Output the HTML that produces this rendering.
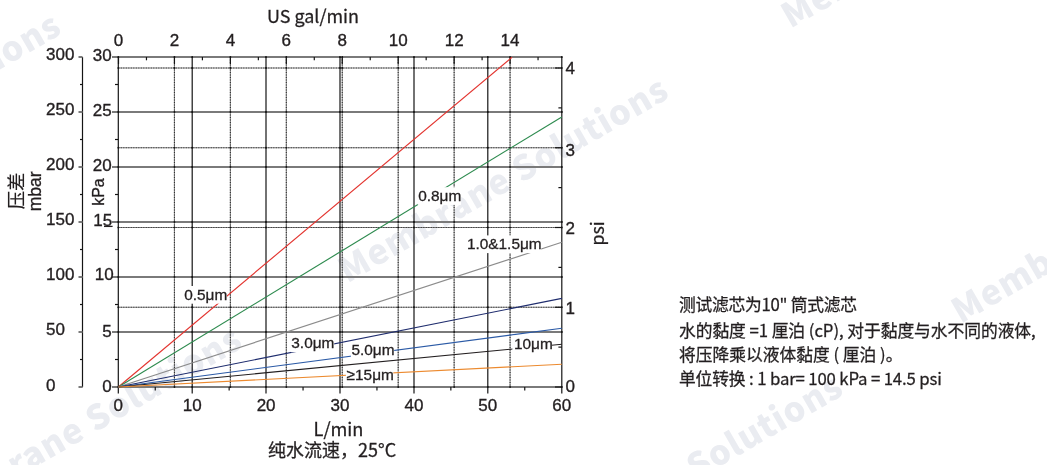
<!DOCTYPE html>
<html><head><meta charset="utf-8"><style>
html,body{margin:0;padding:0;background:#fff;}
body{width:1047px;height:465px;overflow:hidden;}
svg{display:block;}
.sol{stroke:#141414;stroke-width:1.2;}
.dotb{stroke:#858585;stroke-width:1.1;}
.dotbv{stroke:#8a8a8a;stroke-width:1.1;}
.dot{stroke:#333;stroke-width:1.1;stroke-dasharray:1 1.5;}
.num{font-family:'Liberation Sans',Arial,sans-serif;font-size:17px;fill:#231f20;stroke:#231f20;stroke-width:0.35px;}
.lab{font-family:'Liberation Sans',Arial,sans-serif;font-size:15.4px;fill:#231f20;stroke:#231f20;stroke-width:0.3px;}
.ar{font-family:'Liberation Sans',Arial,sans-serif;fill:#231f20;stroke:#231f20;stroke-width:0.3px;}
.noto{font-family:'Noto Sans CJK SC','Liberation Sans',sans-serif;fill:#231f20;stroke:#231f20;stroke-width:0.28px;}
.wm{font-family:'Noto Sans CJK SC',sans-serif;font-weight:900;font-size:34px;letter-spacing:1.0px;fill:#eaecf1;}
</style></head><body>
<svg width="1047" height="465" viewBox="0 0 1047 465">
<rect width="1047" height="465" fill="#fff"/>
<g id="wm"><text transform="translate(-260,219.5) rotate(-30)" class="wm">Membrane Solutions</text><text transform="translate(347.5,283.5) rotate(-30)" class="wm">Membrane Solutions</text><text transform="translate(-79,533) rotate(-30)" class="wm">Membrane Solutions</text><text transform="translate(790.5,28.8) rotate(-30)" class="wm">Membrane Solutions</text><text transform="translate(960.8,324) rotate(-30)" class="wm">Membrane Solutions</text><text transform="translate(522,580.5) rotate(-30)" class="wm">Membrane Solutions</text></g>
<g id="grid"><line x1="118.3" y1="307.25" x2="561.8" y2="307.25" class="dotb"/><line x1="118.3" y1="307.25" x2="561.8" y2="307.25" class="dot"/><line x1="118.3" y1="227.50" x2="561.8" y2="227.50" class="dotb"/><line x1="118.3" y1="227.50" x2="561.8" y2="227.50" class="dot"/><line x1="118.3" y1="147.75" x2="561.8" y2="147.75" class="dotb"/><line x1="118.3" y1="147.75" x2="561.8" y2="147.75" class="dot"/><line x1="118.3" y1="68.00" x2="561.8" y2="68.00" class="dotb"/><line x1="118.3" y1="68.00" x2="561.8" y2="68.00" class="dot"/><line x1="174.44" y1="57.0" x2="174.44" y2="387.0" class="dotbv"/><line x1="174.44" y1="57.0" x2="174.44" y2="387.0" class="dot"/><line x1="230.38" y1="57.0" x2="230.38" y2="387.0" class="dotbv"/><line x1="230.38" y1="57.0" x2="230.38" y2="387.0" class="dot"/><line x1="286.32" y1="57.0" x2="286.32" y2="387.0" class="dotbv"/><line x1="286.32" y1="57.0" x2="286.32" y2="387.0" class="dot"/><line x1="342.26" y1="57.0" x2="342.26" y2="387.0" class="dotbv"/><line x1="342.26" y1="57.0" x2="342.26" y2="387.0" class="dot"/><line x1="398.20" y1="57.0" x2="398.20" y2="387.0" class="dotbv"/><line x1="398.20" y1="57.0" x2="398.20" y2="387.0" class="dot"/><line x1="454.14" y1="57.0" x2="454.14" y2="387.0" class="dotbv"/><line x1="454.14" y1="57.0" x2="454.14" y2="387.0" class="dot"/><line x1="510.08" y1="57.0" x2="510.08" y2="387.0" class="dotbv"/><line x1="510.08" y1="57.0" x2="510.08" y2="387.0" class="dot"/><rect x="112.00" y="386.00" width="450.40" height="2" fill="#7a7a7a"/><rect x="112.00" y="331.00" width="450.40" height="2" fill="#7a7a7a"/><rect x="112.00" y="276.00" width="450.40" height="2" fill="#7a7a7a"/><rect x="112.00" y="221.00" width="450.40" height="2" fill="#7a7a7a"/><rect x="112.00" y="166.00" width="450.40" height="2" fill="#7a7a7a"/><rect x="112.00" y="111.00" width="450.40" height="2" fill="#7a7a7a"/><rect x="112.00" y="56.00" width="450.40" height="2" fill="#7a7a7a"/><line x1="192.20" y1="57.0" x2="192.20" y2="393.5" class="sol"/><line x1="266.00" y1="57.0" x2="266.00" y2="393.5" class="sol"/><line x1="340.00" y1="57.0" x2="340.00" y2="393.5" class="sol"/><line x1="414.00" y1="57.0" x2="414.00" y2="393.5" class="sol"/><line x1="487.80" y1="57.0" x2="487.80" y2="393.5" class="sol"/><line x1="118.3" y1="57.0" x2="118.3" y2="393.5" class="sol"/><line x1="561.8" y1="57.0" x2="561.8" y2="393.5" class="sol"/><line x1="115.0" y1="359.50" x2="118.3" y2="359.50" class="sol"/><line x1="115.0" y1="304.50" x2="118.3" y2="304.50" class="sol"/><line x1="115.0" y1="249.50" x2="118.3" y2="249.50" class="sol"/><line x1="115.0" y1="194.50" x2="118.3" y2="194.50" class="sol"/><line x1="115.0" y1="139.50" x2="118.3" y2="139.50" class="sol"/><line x1="115.0" y1="84.50" x2="118.3" y2="84.50" class="sol"/><line x1="155.25" y1="387.0" x2="155.25" y2="390.5" class="sol"/><line x1="229.15" y1="387.0" x2="229.15" y2="390.5" class="sol"/><line x1="303.05" y1="387.0" x2="303.05" y2="390.5" class="sol"/><line x1="376.95" y1="387.0" x2="376.95" y2="390.5" class="sol"/><line x1="450.85" y1="387.0" x2="450.85" y2="390.5" class="sol"/><line x1="524.75" y1="387.0" x2="524.75" y2="390.5" class="sol"/><line x1="118.50" y1="57.0" x2="118.50" y2="64.0" class="sol"/><line x1="146.47" y1="57.0" x2="146.47" y2="60.3" class="sol"/><line x1="174.44" y1="57.0" x2="174.44" y2="64.0" class="sol"/><line x1="202.41" y1="57.0" x2="202.41" y2="60.3" class="sol"/><line x1="230.38" y1="57.0" x2="230.38" y2="64.0" class="sol"/><line x1="258.35" y1="57.0" x2="258.35" y2="60.3" class="sol"/><line x1="286.32" y1="57.0" x2="286.32" y2="64.0" class="sol"/><line x1="314.29" y1="57.0" x2="314.29" y2="60.3" class="sol"/><line x1="342.26" y1="57.0" x2="342.26" y2="64.0" class="sol"/><line x1="370.23" y1="57.0" x2="370.23" y2="60.3" class="sol"/><line x1="398.20" y1="57.0" x2="398.20" y2="64.0" class="sol"/><line x1="426.17" y1="57.0" x2="426.17" y2="60.3" class="sol"/><line x1="454.14" y1="57.0" x2="454.14" y2="64.0" class="sol"/><line x1="482.11" y1="57.0" x2="482.11" y2="60.3" class="sol"/><line x1="510.08" y1="57.0" x2="510.08" y2="64.0" class="sol"/><line x1="538.05" y1="57.0" x2="538.05" y2="60.3" class="sol"/><line x1="555.0" y1="387.00" x2="561.8" y2="387.00" class="sol"/><line x1="558.4" y1="347.12" x2="561.8" y2="347.12" class="sol"/><line x1="555.0" y1="307.25" x2="561.8" y2="307.25" class="sol"/><line x1="558.4" y1="267.38" x2="561.8" y2="267.38" class="sol"/><line x1="555.0" y1="227.50" x2="561.8" y2="227.50" class="sol"/><line x1="558.4" y1="187.62" x2="561.8" y2="187.62" class="sol"/><line x1="555.0" y1="147.75" x2="561.8" y2="147.75" class="sol"/><line x1="558.4" y1="107.88" x2="561.8" y2="107.88" class="sol"/><line x1="555.0" y1="68.00" x2="561.8" y2="68.00" class="sol"/><line x1="82.5" y1="57.0" x2="82.5" y2="387.3" class="sol"/><rect x="78.50" y="386.00" width="4.00" height="2" fill="#7a7a7a"/><line x1="80.0" y1="359.50" x2="82.5" y2="359.50" class="sol"/><rect x="78.50" y="331.00" width="4.00" height="2" fill="#7a7a7a"/><line x1="80.0" y1="304.50" x2="82.5" y2="304.50" class="sol"/><rect x="78.50" y="276.00" width="4.00" height="2" fill="#7a7a7a"/><line x1="80.0" y1="249.50" x2="82.5" y2="249.50" class="sol"/><rect x="78.50" y="221.00" width="4.00" height="2" fill="#7a7a7a"/><line x1="80.0" y1="194.50" x2="82.5" y2="194.50" class="sol"/><rect x="78.50" y="166.00" width="4.00" height="2" fill="#7a7a7a"/><line x1="80.0" y1="139.50" x2="82.5" y2="139.50" class="sol"/><rect x="78.50" y="111.00" width="4.00" height="2" fill="#7a7a7a"/><line x1="80.0" y1="84.50" x2="82.5" y2="84.50" class="sol"/><rect x="78.50" y="56.00" width="4.00" height="2" fill="#7a7a7a"/><circle cx="118.30" cy="387.00" r="0.9" fill="#111"/><circle cx="118.30" cy="332.00" r="0.9" fill="#111"/><circle cx="118.30" cy="277.00" r="0.9" fill="#111"/><circle cx="118.30" cy="222.00" r="0.9" fill="#111"/><circle cx="118.30" cy="167.00" r="0.9" fill="#111"/><circle cx="118.30" cy="112.00" r="0.9" fill="#111"/><circle cx="118.30" cy="57.00" r="0.9" fill="#111"/><circle cx="118.30" cy="307.25" r="0.9" fill="#111"/><circle cx="118.30" cy="227.50" r="0.9" fill="#111"/><circle cx="118.30" cy="147.75" r="0.9" fill="#111"/><circle cx="118.30" cy="68.00" r="0.9" fill="#111"/><circle cx="192.20" cy="387.00" r="0.9" fill="#111"/><circle cx="192.20" cy="332.00" r="0.9" fill="#111"/><circle cx="192.20" cy="277.00" r="0.9" fill="#111"/><circle cx="192.20" cy="222.00" r="0.9" fill="#111"/><circle cx="192.20" cy="167.00" r="0.9" fill="#111"/><circle cx="192.20" cy="112.00" r="0.9" fill="#111"/><circle cx="192.20" cy="57.00" r="0.9" fill="#111"/><circle cx="192.20" cy="307.25" r="0.9" fill="#111"/><circle cx="192.20" cy="227.50" r="0.9" fill="#111"/><circle cx="192.20" cy="147.75" r="0.9" fill="#111"/><circle cx="192.20" cy="68.00" r="0.9" fill="#111"/><circle cx="266.00" cy="387.00" r="0.9" fill="#111"/><circle cx="266.00" cy="332.00" r="0.9" fill="#111"/><circle cx="266.00" cy="277.00" r="0.9" fill="#111"/><circle cx="266.00" cy="222.00" r="0.9" fill="#111"/><circle cx="266.00" cy="167.00" r="0.9" fill="#111"/><circle cx="266.00" cy="112.00" r="0.9" fill="#111"/><circle cx="266.00" cy="57.00" r="0.9" fill="#111"/><circle cx="266.00" cy="307.25" r="0.9" fill="#111"/><circle cx="266.00" cy="227.50" r="0.9" fill="#111"/><circle cx="266.00" cy="147.75" r="0.9" fill="#111"/><circle cx="266.00" cy="68.00" r="0.9" fill="#111"/><circle cx="340.00" cy="387.00" r="0.9" fill="#111"/><circle cx="340.00" cy="332.00" r="0.9" fill="#111"/><circle cx="340.00" cy="277.00" r="0.9" fill="#111"/><circle cx="340.00" cy="222.00" r="0.9" fill="#111"/><circle cx="340.00" cy="167.00" r="0.9" fill="#111"/><circle cx="340.00" cy="112.00" r="0.9" fill="#111"/><circle cx="340.00" cy="57.00" r="0.9" fill="#111"/><circle cx="340.00" cy="307.25" r="0.9" fill="#111"/><circle cx="340.00" cy="227.50" r="0.9" fill="#111"/><circle cx="340.00" cy="147.75" r="0.9" fill="#111"/><circle cx="340.00" cy="68.00" r="0.9" fill="#111"/><circle cx="414.00" cy="387.00" r="0.9" fill="#111"/><circle cx="414.00" cy="332.00" r="0.9" fill="#111"/><circle cx="414.00" cy="277.00" r="0.9" fill="#111"/><circle cx="414.00" cy="222.00" r="0.9" fill="#111"/><circle cx="414.00" cy="167.00" r="0.9" fill="#111"/><circle cx="414.00" cy="112.00" r="0.9" fill="#111"/><circle cx="414.00" cy="57.00" r="0.9" fill="#111"/><circle cx="414.00" cy="307.25" r="0.9" fill="#111"/><circle cx="414.00" cy="227.50" r="0.9" fill="#111"/><circle cx="414.00" cy="147.75" r="0.9" fill="#111"/><circle cx="414.00" cy="68.00" r="0.9" fill="#111"/><circle cx="487.80" cy="387.00" r="0.9" fill="#111"/><circle cx="487.80" cy="332.00" r="0.9" fill="#111"/><circle cx="487.80" cy="277.00" r="0.9" fill="#111"/><circle cx="487.80" cy="222.00" r="0.9" fill="#111"/><circle cx="487.80" cy="167.00" r="0.9" fill="#111"/><circle cx="487.80" cy="112.00" r="0.9" fill="#111"/><circle cx="487.80" cy="57.00" r="0.9" fill="#111"/><circle cx="487.80" cy="307.25" r="0.9" fill="#111"/><circle cx="487.80" cy="227.50" r="0.9" fill="#111"/><circle cx="487.80" cy="147.75" r="0.9" fill="#111"/><circle cx="487.80" cy="68.00" r="0.9" fill="#111"/><circle cx="561.80" cy="387.00" r="0.9" fill="#111"/><circle cx="561.80" cy="332.00" r="0.9" fill="#111"/><circle cx="561.80" cy="277.00" r="0.9" fill="#111"/><circle cx="561.80" cy="222.00" r="0.9" fill="#111"/><circle cx="561.80" cy="167.00" r="0.9" fill="#111"/><circle cx="561.80" cy="112.00" r="0.9" fill="#111"/><circle cx="561.80" cy="57.00" r="0.9" fill="#111"/><circle cx="561.80" cy="307.25" r="0.9" fill="#111"/><circle cx="561.80" cy="227.50" r="0.9" fill="#111"/><circle cx="561.80" cy="147.75" r="0.9" fill="#111"/><circle cx="561.80" cy="68.00" r="0.9" fill="#111"/><circle cx="174.44" cy="387.00" r="0.9" fill="#111"/><circle cx="174.44" cy="332.00" r="0.9" fill="#111"/><circle cx="174.44" cy="277.00" r="0.9" fill="#111"/><circle cx="174.44" cy="222.00" r="0.9" fill="#111"/><circle cx="174.44" cy="167.00" r="0.9" fill="#111"/><circle cx="174.44" cy="112.00" r="0.9" fill="#111"/><circle cx="174.44" cy="57.00" r="0.9" fill="#111"/><circle cx="174.44" cy="307.25" r="0.9" fill="#111"/><circle cx="174.44" cy="227.50" r="0.9" fill="#111"/><circle cx="174.44" cy="147.75" r="0.9" fill="#111"/><circle cx="174.44" cy="68.00" r="0.9" fill="#111"/><circle cx="230.38" cy="387.00" r="0.9" fill="#111"/><circle cx="230.38" cy="332.00" r="0.9" fill="#111"/><circle cx="230.38" cy="277.00" r="0.9" fill="#111"/><circle cx="230.38" cy="222.00" r="0.9" fill="#111"/><circle cx="230.38" cy="167.00" r="0.9" fill="#111"/><circle cx="230.38" cy="112.00" r="0.9" fill="#111"/><circle cx="230.38" cy="57.00" r="0.9" fill="#111"/><circle cx="230.38" cy="307.25" r="0.9" fill="#111"/><circle cx="230.38" cy="227.50" r="0.9" fill="#111"/><circle cx="230.38" cy="147.75" r="0.9" fill="#111"/><circle cx="230.38" cy="68.00" r="0.9" fill="#111"/><circle cx="286.32" cy="387.00" r="0.9" fill="#111"/><circle cx="286.32" cy="332.00" r="0.9" fill="#111"/><circle cx="286.32" cy="277.00" r="0.9" fill="#111"/><circle cx="286.32" cy="222.00" r="0.9" fill="#111"/><circle cx="286.32" cy="167.00" r="0.9" fill="#111"/><circle cx="286.32" cy="112.00" r="0.9" fill="#111"/><circle cx="286.32" cy="57.00" r="0.9" fill="#111"/><circle cx="286.32" cy="307.25" r="0.9" fill="#111"/><circle cx="286.32" cy="227.50" r="0.9" fill="#111"/><circle cx="286.32" cy="147.75" r="0.9" fill="#111"/><circle cx="286.32" cy="68.00" r="0.9" fill="#111"/><circle cx="342.26" cy="387.00" r="0.9" fill="#111"/><circle cx="342.26" cy="332.00" r="0.9" fill="#111"/><circle cx="342.26" cy="277.00" r="0.9" fill="#111"/><circle cx="342.26" cy="222.00" r="0.9" fill="#111"/><circle cx="342.26" cy="167.00" r="0.9" fill="#111"/><circle cx="342.26" cy="112.00" r="0.9" fill="#111"/><circle cx="342.26" cy="57.00" r="0.9" fill="#111"/><circle cx="342.26" cy="307.25" r="0.9" fill="#111"/><circle cx="342.26" cy="227.50" r="0.9" fill="#111"/><circle cx="342.26" cy="147.75" r="0.9" fill="#111"/><circle cx="342.26" cy="68.00" r="0.9" fill="#111"/><circle cx="398.20" cy="387.00" r="0.9" fill="#111"/><circle cx="398.20" cy="332.00" r="0.9" fill="#111"/><circle cx="398.20" cy="277.00" r="0.9" fill="#111"/><circle cx="398.20" cy="222.00" r="0.9" fill="#111"/><circle cx="398.20" cy="167.00" r="0.9" fill="#111"/><circle cx="398.20" cy="112.00" r="0.9" fill="#111"/><circle cx="398.20" cy="57.00" r="0.9" fill="#111"/><circle cx="398.20" cy="307.25" r="0.9" fill="#111"/><circle cx="398.20" cy="227.50" r="0.9" fill="#111"/><circle cx="398.20" cy="147.75" r="0.9" fill="#111"/><circle cx="398.20" cy="68.00" r="0.9" fill="#111"/><circle cx="454.14" cy="387.00" r="0.9" fill="#111"/><circle cx="454.14" cy="332.00" r="0.9" fill="#111"/><circle cx="454.14" cy="277.00" r="0.9" fill="#111"/><circle cx="454.14" cy="222.00" r="0.9" fill="#111"/><circle cx="454.14" cy="167.00" r="0.9" fill="#111"/><circle cx="454.14" cy="112.00" r="0.9" fill="#111"/><circle cx="454.14" cy="57.00" r="0.9" fill="#111"/><circle cx="454.14" cy="307.25" r="0.9" fill="#111"/><circle cx="454.14" cy="227.50" r="0.9" fill="#111"/><circle cx="454.14" cy="147.75" r="0.9" fill="#111"/><circle cx="454.14" cy="68.00" r="0.9" fill="#111"/><circle cx="510.08" cy="387.00" r="0.9" fill="#111"/><circle cx="510.08" cy="332.00" r="0.9" fill="#111"/><circle cx="510.08" cy="277.00" r="0.9" fill="#111"/><circle cx="510.08" cy="222.00" r="0.9" fill="#111"/><circle cx="510.08" cy="167.00" r="0.9" fill="#111"/><circle cx="510.08" cy="112.00" r="0.9" fill="#111"/><circle cx="510.08" cy="57.00" r="0.9" fill="#111"/><circle cx="510.08" cy="307.25" r="0.9" fill="#111"/><circle cx="510.08" cy="227.50" r="0.9" fill="#111"/><circle cx="510.08" cy="147.75" r="0.9" fill="#111"/><circle cx="510.08" cy="68.00" r="0.9" fill="#111"/></g>
<g id="data"><line x1="118.3" y1="387.0" x2="512.0" y2="57.2" stroke="#e3342f" stroke-width="1.15"/><line x1="118.3" y1="387.0" x2="561.8" y2="116.9" stroke="#2e8b4f" stroke-width="1.15"/><line x1="118.3" y1="387.0" x2="561.8" y2="242.3" stroke="#8c8c8c" stroke-width="1.15"/><line x1="118.3" y1="387.0" x2="561.8" y2="298.4" stroke="#1f2d6e" stroke-width="1.15"/><line x1="118.3" y1="387.0" x2="561.8" y2="328.3" stroke="#2b5aa6" stroke-width="1.15"/><line x1="118.3" y1="387.0" x2="561.8" y2="344.3" stroke="#231f20" stroke-width="1.15"/><line x1="118.3" y1="387.0" x2="561.8" y2="364.2" stroke="#ec8a2f" stroke-width="1.15"/></g>
<g id="labs"><rect x="183.9" y="286.0" width="43.1" height="17.7" fill="#fff"/><text x="184.2" y="299.5" class="lab">0.5μm</text><rect x="417.7" y="187.2" width="43.3" height="17.7" fill="#fff"/><text x="418.2" y="200.7" class="lab">0.8μm</text><rect x="466.5" y="235.4" width="74.7" height="17.7" fill="#fff"/><text x="466.9" y="248.9" class="lab">1.0&amp;1.5μm</text><rect x="291.0" y="334.5" width="43.2" height="17.7" fill="#fff"/><text x="291.3" y="348.0" class="lab">3.0μm</text><rect x="350.9" y="341.8" width="43.3" height="17.7" fill="#fff"/><text x="351.4" y="355.3" class="lab">5.0μm</text><rect x="512.4" y="335.6" width="39.6" height="17.7" fill="#fff"/><text x="513.9" y="349.1" class="lab">10μm</text><rect x="345.9" y="366.7" width="47.4" height="17.7" fill="#fff"/><text x="346.6" y="380.2" class="lab">≥15μm</text></g>
<g id="nums"><text x="111.6" y="392.0" class="num" text-anchor="end">0</text><text x="111.6" y="336.8" class="num" text-anchor="end">5</text><text x="113.6" y="279.6" class="num" text-anchor="end">10</text><text x="112.2" y="226.0" class="num" text-anchor="end">15</text><text x="111.6" y="171.0" class="num" text-anchor="end">20</text><text x="111.6" y="116.0" class="num" text-anchor="end">25</text><text x="111.6" y="61.0" class="num" text-anchor="end">30</text><text x="46.0" y="391.0" class="num">0</text><text x="46.0" y="335.0" class="num">50</text><text x="46.0" y="280.0" class="num">100</text><text x="46.0" y="225.0" class="num">150</text><text x="46.0" y="170.0" class="num">200</text><text x="46.0" y="115.0" class="num">250</text><text x="46.0" y="60.0" class="num">300</text><text x="118.30" y="410.8" class="num" text-anchor="middle">0</text><text x="192.20" y="410.8" class="num" text-anchor="middle">10</text><text x="266.10" y="410.8" class="num" text-anchor="middle">20</text><text x="340.00" y="410.8" class="num" text-anchor="middle">30</text><text x="413.90" y="410.8" class="num" text-anchor="middle">40</text><text x="487.80" y="410.8" class="num" text-anchor="middle">50</text><text x="561.70" y="410.8" class="num" text-anchor="middle">60</text><text x="118.50" y="46.3" class="num" text-anchor="middle">0</text><text x="174.44" y="46.3" class="num" text-anchor="middle">2</text><text x="230.38" y="46.3" class="num" text-anchor="middle">4</text><text x="286.32" y="46.3" class="num" text-anchor="middle">6</text><text x="342.26" y="46.3" class="num" text-anchor="middle">8</text><text x="398.20" y="46.3" class="num" text-anchor="middle">10</text><text x="454.14" y="46.3" class="num" text-anchor="middle">12</text><text x="510.08" y="46.3" class="num" text-anchor="middle">14</text><text x="565.6" y="392.15" class="num">0</text><text x="565.6" y="314.3" class="num">1</text><text x="565.6" y="233.65" class="num">2</text><text x="565.6" y="156.0" class="num">3</text><text x="565.6" y="73.75" class="num">4</text></g>
<g id="titles"><text x="267.0" y="22.6" class="noto" font-size="17.95">US gal/min</text><text x="313.5" y="435.8" class="noto" font-size="18.2">L/min</text><text x="268.0" y="456.6" class="noto" font-size="18">纯水流速，25°C</text><text transform="translate(22.6,209.3) rotate(-90)" class="noto" font-size="18.3" style="stroke-width:0.15px">压差</text><text transform="translate(41.4,211.3) rotate(-90)" class="ar" font-size="17.5">mbar</text><text transform="translate(104.2,205.8) rotate(-90)" class="ar" font-size="16">kPa</text><text transform="translate(604.0,245.5) rotate(-90)" class="noto" font-size="17.8">psi</text><line x1="104" y1="226.4" x2="112.6" y2="226.4" stroke="#231f20" stroke-width="1.3"/></g>
<g id="rtext"><text x="679" y="311.1" class="noto" font-size="16.75" textLength="178.1" lengthAdjust="spacing">测试滤芯为10&quot; 筒式滤芯</text><text x="679" y="336.7" class="noto" font-size="16.75" textLength="356.7" lengthAdjust="spacing">水的黏度 =1 厘泊 (cP), 对于黏度与水不同的液体,</text><text x="679" y="361.0" class="noto" font-size="16.75" textLength="223.4" lengthAdjust="spacing">将压降乘以液体黏度 ( 厘泊 )。</text><text x="679" y="384.8" class="noto" font-size="16.75" textLength="262.8" lengthAdjust="spacing">单位转换 : 1 bar= 100 kPa = 14.5 psi</text></g>
</svg>
</body></html>
